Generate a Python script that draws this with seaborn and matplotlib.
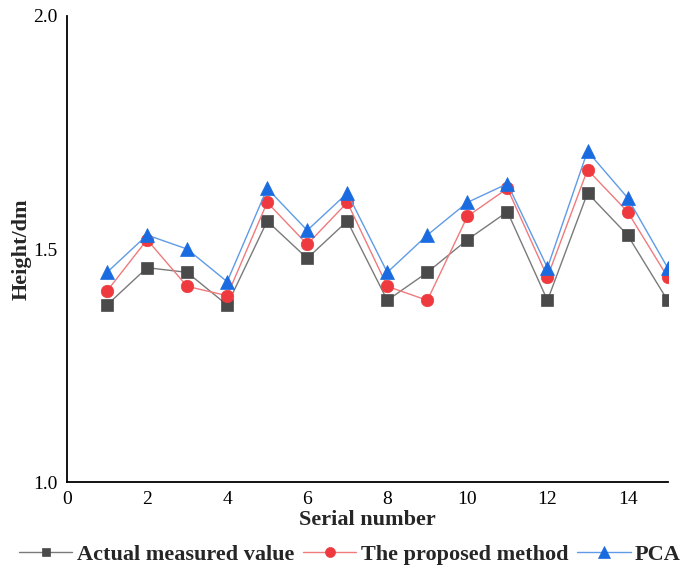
import matplotlib
matplotlib.use("Agg")
import matplotlib.pyplot as plt
import seaborn as sns
import pandas as pd
from matplotlib.ticker import MultipleLocator

serial = list(range(1, 16))
actual = [1.38, 1.46, 1.45, 1.38, 1.56, 1.48, 1.56, 1.39, 1.45, 1.52, 1.58, 1.39, 1.62, 1.53, 1.39]
proposed = [1.41, 1.52, 1.42, 1.40, 1.60, 1.51, 1.60, 1.42, 1.39, 1.57, 1.63, 1.44, 1.67, 1.58, 1.44]
pca = [1.45, 1.53, 1.50, 1.43, 1.63, 1.54, 1.62, 1.45, 1.53, 1.60, 1.64, 1.46, 1.71, 1.61, 1.46]
series_names = ["Actual measured value", "The proposed method", "PCA"]

sns.set_style("white")
plt.rcParams["font.family"] = ["Liberation Serif", "DejaVu Serif"]

fig = plt.figure(figsize=(7.0, 5.66), dpi=100)
ax = fig.add_axes([0.0957, 0.148, 0.858, 0.824])

styles = [
    dict(line="#7a7a7a", face="#4a4a4a", marker="s", ms=8),
    dict(line="#f07a7c", face="#ee3a3f", marker="o", ms=9),
    dict(line="#5f9be8", face="#1a6be0", marker="^", ms=10),
]
for name, vals, st in zip(series_names, [actual, proposed, pca], styles):
    df = pd.DataFrame({"Serial number": serial, "Height/dm": vals})
    sns.lineplot(data=df, x="Serial number", y="Height/dm", ax=ax,
                 color=st["line"], lw=1.0, marker=st["marker"], markersize=st["ms"],
                 markerfacecolor=st["face"], markeredgecolor=st["face"],
                 markeredgewidth=0.5, label=name, legend=False)

ax.set_xlim(0, 15)
ax.set_ylim(1.0, 2.0)
ax.xaxis.set_major_locator(MultipleLocator(2))
ax.xaxis.set_minor_locator(MultipleLocator(1))
ax.yaxis.set_major_locator(MultipleLocator(0.5))
ax.yaxis.set_minor_locator(MultipleLocator(0.25))
ax.tick_params(which="major", direction="in", length=7, width=1.2, labelsize=14, colors="black")
ax.tick_params(which="minor", direction="in", length=4, width=1.0)
ax.tick_params(axis="x", pad=6)
ax.tick_params(axis="y", pad=7)
for s in ["top", "right"]:
    ax.spines[s].set_visible(False)
for s in ["left", "bottom"]:
    ax.spines[s].set_color("black")
    ax.spines[s].set_linewidth(1.3)

ax.set_xlabel("Serial number", fontsize=16, fontweight="bold", labelpad=2)
ax.set_ylabel("Height/dm", fontsize=16, fontweight="bold", labelpad=1)

handles, labels = ax.get_legend_handles_labels()
fig.legend(handles, labels, loc="lower center", bbox_to_anchor=(0.5, -0.034), ncol=3,
           frameon=False, prop={"weight": "bold", "size": 16}, handlelength=2.4,
           columnspacing=0.4, handletextpad=0.2, markerscale=0.8)

fig.savefig("out.png", dpi=100)
